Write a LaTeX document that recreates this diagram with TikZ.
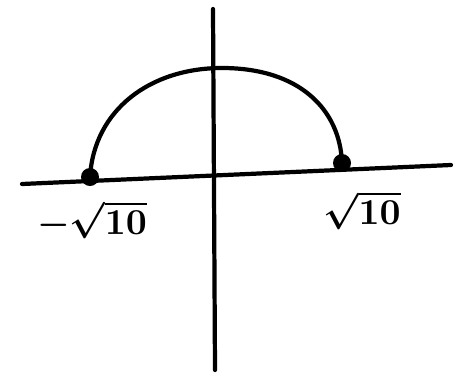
\documentclass[tikz,border=0pt]{standalone}
\usepackage{tikz}
\usepackage{amsmath}
\usetikzlibrary{positioning}
\tikzset{
  pen/.style={line width=6pt,line cap=round,line join=round},
  blob/.style={circle,fill=black,inner sep=0pt,minimum size=9mm},
  lab/.style={scale=5.2}
}
\begin{document}
\begin{tikzpicture}[x=0.5mm,y=-0.5mm]
  \useasboundingbox (0,0) rectangle (467,384);

  % axes
  \coordinate (xl) at (22,184);
  \coordinate (xr) at (451,165);
  \coordinate (yt) at (213,9);
  \coordinate (yb) at (215,370);
  \draw[pen] (xl) -- (xr);
  \draw[pen] (yt) -- (yb);

  % end points
  \node[blob] (ln) at (90,177) {};
  \node[blob] (rn) at (342,163) {};
  \coordinate (top) at (222,68);
  \draw[pen] (ln.center) .. controls (94,110) and (150,68) .. (top)
             .. controls (300,68) and (340,110) .. (rn.center);

  % labels
  \node[lab] (lneg) at (92,220) {$\boldsymbol{-\sqrt{10}}$};
  \node[lab] (lpos) at (362,210) {$\boldsymbol{\sqrt{10}}$};
\end{tikzpicture}
\end{document}
